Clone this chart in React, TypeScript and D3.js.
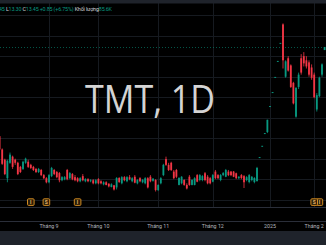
import React from "react";
import * as d3 from "d3";

// ---- data (TMT, 1D) ----
const opens = [
  9.1, 8.45, 7.95, 7.05, 7.8, 8.1, 7.95, 7.8, 7.6, 7.5,
  7.8, 7.85, 7.7, 7.6, 7.5, 7.35, 7.45, 7.2, 7.05, 6.85,
  7.15, 7.45, 7.35, 7.3, 6.95, 7.0, 7.45, 7.05, 7.25, 7.1,
  7.05, 6.9, 7.15, 6.9, 7.0, 6.9, 6.95, 6.8, 7.0, 6.9,
  6.75, 6.85, 6.78, 6.62, 6.7, 6.6, 7.06, 6.8, 7.1, 6.9,
  7.1, 6.9, 7.12, 6.8, 7.05, 6.85, 6.8, 7.05, 7.12, 6.92,
  6.96, 6.47, 6.8, 7.2, 7.98, 7.7, 7.8, 7.37, 7.45, 6.72,
  6.8, 6.96, 6.72, 7.12, 6.72, 6.72, 7.2, 6.96, 6.96, 7.29,
  7.12, 7.05, 6.88, 7.37, 7.2, 6.96, 7.2, 7.12, 7.37, 7.37,
  7.37, 7.29, 7.05, 7.2, 7.15, 6.96, 6.86, 6.96, 6.86, 6.91,
  8.08, 8.63, 9.25, 9.3, 10.57, 11.25, 11.99, 12.77, 13.65, 14.55,
  12.0, 12.9, 12.55, 11.7, 10.05, 11.5, 12.9, 13.0, 12.8, 12.7,
  12.45, 12.1, 10.4, 11.05, 12.1, 13.3,
];
const highs = [
  9.2, 8.5, 8.0, 7.95, 8.3, 8.15, 8.0, 7.85, 7.65, 7.9,
  8.05, 7.95, 7.75, 7.65, 7.55, 7.55, 7.5, 7.25, 7.1, 7.25,
  7.6, 7.5, 7.4, 7.35, 7.15, 7.15, 7.5, 7.35, 7.3, 7.2,
  7.1, 7.1, 7.25, 7.05, 7.05, 7.0, 7.0, 7.0, 7.05, 6.95,
  6.9, 6.9, 6.8, 6.8, 6.72, 7.1, 7.1, 7.15, 7.15, 7.15,
  7.2, 7.1, 7.2, 7.0, 7.1, 7.0, 7.1, 7.1, 7.2, 7.05,
  7.0, 6.75, 7.1, 7.75, 8.1, 7.8, 7.85, 7.45, 7.5, 7.1,
  7.15, 7.0, 6.8, 7.2, 7.0, 7.1, 7.25, 7.25, 7.2, 7.35,
  7.2, 7.1, 7.25, 7.45, 7.25, 7.25, 7.35, 7.5, 7.45, 7.4,
  7.4, 7.32, 7.15, 7.25, 7.2, 7.15, 7.25, 7.15, 7.1, 7.6,
  8.08, 8.63, 9.25, 9.9, 10.57, 11.25, 11.99, 12.77, 13.65, 14.6,
  12.8, 13.0, 12.6, 11.75, 11.5, 12.2, 13.1, 13.2, 13.0, 12.8,
  12.6, 12.2, 11.2, 12.0, 12.65, 13.45,
];
const lows = [
  8.4, 7.7, 7.2, 6.85, 7.75, 7.5, 7.7, 7.2, 7.3, 7.45,
  7.75, 7.55, 7.5, 7.4, 7.3, 7.3, 7.15, 7.0, 6.8, 6.8,
  7.1, 7.2, 7.05, 6.85, 6.9, 6.95, 6.95, 7.0, 6.95, 6.9,
  6.85, 6.85, 6.9, 6.85, 6.85, 6.85, 6.75, 6.75, 6.75, 6.75,
  6.7, 6.7, 6.6, 6.6, 6.45, 6.5, 6.82, 6.75, 6.9, 6.85,
  6.95, 6.85, 6.8, 6.75, 6.85, 6.8, 6.75, 6.55, 6.85, 6.88,
  6.4, 6.42, 6.75, 7.15, 7.65, 7.4, 7.4, 7.0, 7.05, 6.7,
  6.75, 6.68, 6.5, 6.68, 6.7, 6.7, 6.85, 6.9, 6.9, 6.9,
  6.75, 6.75, 6.85, 7.0, 7.0, 6.9, 7.15, 7.1, 7.15, 7.15,
  7.1, 7.0, 7.0, 7.0, 6.57, 6.9, 6.8, 6.9, 6.8, 6.88,
  8.08, 8.63, 9.25, 9.25, 10.57, 11.25, 11.99, 12.77, 13.65, 12.4,
  11.95, 12.25, 11.45, 10.65, 10.0, 11.4, 12.1, 12.5, 12.4, 12.0,
  11.85, 10.95, 10.3, 11.0, 12.0, 13.3,
];
const closes = [
  8.45, 7.75, 7.25, 7.9, 8.2, 7.6, 7.8, 7.25, 7.35, 7.85,
  8.0, 7.6, 7.55, 7.45, 7.35, 7.5, 7.2, 7.05, 6.85, 7.2,
  7.55, 7.25, 7.1, 6.95, 7.1, 7.1, 7.0, 7.3, 7.0, 6.95,
  6.9, 7.05, 6.95, 7.0, 6.9, 6.95, 6.8, 6.95, 6.8, 6.8,
  6.85, 6.72, 6.65, 6.75, 6.5, 7.06, 6.86, 7.1, 6.95, 7.1,
  7.0, 7.05, 6.83, 6.96, 6.9, 6.97, 7.05, 6.6, 6.9, 7.03,
  6.47, 6.72, 7.05, 7.7, 7.7, 7.45, 7.45, 7.05, 7.12, 7.06,
  7.12, 6.72, 6.55, 6.72, 6.96, 7.05, 6.88, 7.2, 7.15, 6.96,
  6.8, 6.8, 7.2, 7.05, 7.05, 7.2, 7.3, 7.45, 7.2, 7.2,
  7.12, 7.05, 7.12, 7.06, 6.85, 7.1, 7.2, 7.12, 7.06, 7.55,
  8.08, 8.63, 9.25, 9.9, 10.57, 11.25, 11.99, 12.77, 13.65, 12.8,
  12.75, 12.3, 11.5, 10.7, 11.45, 12.1, 12.2, 12.65, 12.5, 12.1,
  11.95, 11.0, 11.1, 11.95, 12.6, 13.45,
];

const tickLabels = ["Tháng 9", "Tháng 10", "Tháng 11", "Tháng 12", "2025", "Tháng 2"];
const tickIndex = [19, 38, 61, 82, 104, 121];
const priceGrid = [6, 7, 8, 9, 10, 11, 12, 13, 14, 15];
const lastClose = 13.45;

const eventIndex = [12, 18, 30, 123, 121];
const eventLetter = ["I", "S", "I", "I", "S"];

const UP = "#089981";
const DOWN = "#f23645";

export default function App() {
  const W = 326;
  const H = 245;
  const paneBottom = 207;
  const n = opens.length;

  const x = d3.scaleLinear().domain([0, n - 1]).range([-0.4, -0.4 + 2.6 * (n - 1)]);
  const y = d3.scaleLinear().domain([6, 15]).range([199.7, 15.2]);

  const bodyW = 1.8;

  return (
    <svg
      width={W}
      height={H}
      style={{ position: "absolute", left: 0, top: 0, display: "block", background: "#000" }}
    >
      <rect x={0} y={0} width={W} height={H} fill="#000" />
      {/* grid */}
      {tickIndex.map((t, i) => (
        <line key={"vg" + i} x1={Math.round(x(t)) + 0.5} x2={Math.round(x(t)) + 0.5} y1={3} y2={paneBottom} stroke="#161a20" strokeWidth={1} />
      ))}
      {priceGrid.map((p, i) => (
        <line key={"hg" + i} x1={0} x2={W} y1={Math.round(y(p)) + 0.5} y2={Math.round(y(p)) + 0.5} stroke="#161a20" strokeWidth={1} />
      ))}

      {/* watermark */}
      <text
        x={85}
        y={113}
        fontFamily="'Open Sans', 'DejaVu Sans', sans-serif"
        fontSize={38}
        fill="#d4d4d4"
        textLength={130}
        lengthAdjust="spacingAndGlyphs"
      >
        TMT, 1D
      </text>

      {/* price line */}
      <line x1={0} x2={W} y1={Math.round(y(lastClose)) + 0.5} y2={Math.round(y(lastClose)) + 0.5} stroke={UP} strokeOpacity={0.55} strokeWidth={1} strokeDasharray="1 2" />

      {/* candles */}
      {opens.map((o, i) => {
        const c = closes[i];
        const col = c >= o ? UP : DOWN;
        const cx = x(i);
        const top = y(Math.max(o, c));
        const bot = y(Math.min(o, c));
        const h = Math.max(1, bot - top);
        return (
          <g key={"c" + i}>
            <line x1={cx} x2={cx} y1={y(highs[i])} y2={y(lows[i])} stroke={col} strokeWidth={0.8} />
            <rect x={cx - bodyW / 2} y={top} width={bodyW} height={h} fill={col} />
          </g>
        );
      })}

      {/* event markers */}
      {eventIndex.map((e, i) => {
        const cx = x(e);
        return (
          <g key={"ev" + i}>
            <rect x={cx - 3.3} y={198.8} width={6.6} height={6.6} rx={1} fill="#2b1e08" stroke="#d18a22" strokeWidth={1} />
            <text x={cx} y={204} textAnchor="middle" fontFamily="Roboto, sans-serif" fontSize={5} fontWeight={700} fill="#e9b46a">
              {eventLetter[i]}
            </text>
          </g>
        );
      })}

      {/* pane separators */}
      <line x1={0} x2={W} y1={paneBottom + 0.5} y2={paneBottom + 0.5} stroke="#2a2e39" strokeWidth={1} />
      <line x1={0} x2={W} y1={221.5} y2={221.5} stroke="#2a2e39" strokeWidth={1} />

      {/* time axis labels */}
      {tickLabels.map((t, i) => (
        <text key={"tl" + i} x={x(tickIndex[i])} y={228} textAnchor="middle" fontFamily="Roboto, sans-serif" fontSize={5.3} fill="#b2b5be">
          {t}
        </text>
      ))}

      {/* bottom and top bars */}
      <rect x={0} y={231} width={W} height={H - 231} fill="#1f232b" />
      <rect x={0} y={0} width={W} height={3.5} fill="#1f232b" />

      {/* legend */}
      <text x={-1} y={10.5} fontFamily="Roboto, sans-serif" fontSize={5.4} textLength={113} lengthAdjust="spacing">
        <tspan fill={UP}>45</tspan>
        <tspan fill="#d1d4dc"> L</tspan>
        <tspan fill={UP}>13.30</tspan>
        <tspan fill="#d1d4dc"> C</tspan>
        <tspan fill={UP}>13.45</tspan>
        <tspan fill={UP}> +0.85 (+6.75%)</tspan>
        <tspan fill="#d1d4dc"> Khối lượng</tspan>
        <tspan fill={UP}>85.6K</tspan>
      </text>
    </svg>
  );
}
